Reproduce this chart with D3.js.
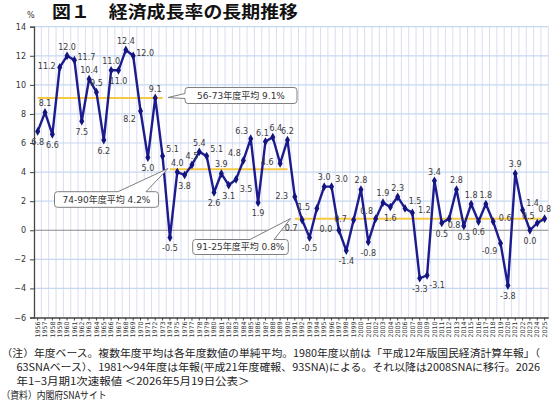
<!DOCTYPE html>
<html><head><meta charset="utf-8">
<script src="https://cdn.jsdelivr.net/npm/d3@7"></script>
<style>body{margin:0;background:#fff}svg{display:block}</style>
</head><body>
<svg id="c" width="552" height="414"></svg>
<script>
const years = d3.range(1956, 2026);
const growth = [6.8,8.1,6.6,11.2,12.0,11.7,7.5,10.4,9.5,6.2,
  11.0,11.0,12.4,12.0,8.2,5.0,9.1,5.1,-0.5,4.0,
  3.8,4.5,5.4,5.1,2.6,3.9,3.1,3.5,4.8,6.3,
  1.9,6.1,6.4,4.6,6.2,2.3,0.7,-0.5,1.5,3.0,
  3.0,0.0,-1.4,0.7,2.8,-0.8,0.8,1.9,1.6,2.3,
  1.5,1.2,-3.3,-3.1,3.4,0.5,0.8,2.8,0.3,1.8,
  0.6,1.8,0.6,-0.9,-3.8,3.9,1.4,0.0,0.5,0.8];
const yTicks = [-6,-4,-2,0,2,4,6,8,10,12,14];
const periodStart = [1956, 1974, 1991];
const periodEnd = [1973, 1990, 2025];
const periodAvg = [9.1, 4.2, 0.8];
const periodLabel = ["56-73年度平均 9.1%", "74-90年度平均 4.2%", "91-25年度平均 0.8%"];
const title = "図１　経済成長率の長期推移";
const notes = [
  "（注）年度ベース。複数年度平均は各年度数値の単純平均。1980年度以前は「平成12年版国民経済計算年報」（",
  "63SNAベース）、1981～94年度は年報(平成21年度確報、93SNA)による。それ以降は2008SNAに移行。2026",
  "年1−3月期1次速報値 ＜2026年5月19日公表＞",
  "（資料）内閣府SNAサイト"
];
// label placement codes (layout only)
const place = ["b","a","b","l","a","r","b","a","a","b",
  "a","b","a","r","bl","b","a","ar","b","a",
  "b","a","a","ar","b","a","b","br","al","al",
  "b","a1","a2","l","a","l","bl","b","l","a",
  "ar","l","b","l","a","b","al","a","b","a",
  "ar","r","b","br","a","b","bs","a","b","a",
  "b","a","r","bl","b","a","ar","b","al","a"];

const svg = d3.select("#c");
const x = d3.scaleBand().domain(years).range([34, 548.3]).padding(0);
const y = d3.scaleLinear().domain([-6, 14]).range([317.5, 26.7]);
const cx = d => x(d) + x.bandwidth()/2;

// vertical grid
svg.append("g").selectAll("line").data(years.slice(1).concat([2026])).join("line")
  .attr("x1", d => d===2026 ? 548.3 : x(d)).attr("x2", d => d===2026 ? 548.3 : x(d))
  .attr("y1", y(14)).attr("y2", y(-6))
  .attr("stroke", "#dcdcf4").attr("stroke-width", 1);
// horizontal grid
svg.append("g").selectAll("line").data(yTicks.filter(t => t !== 0 && t !== -6)).join("line")
  .attr("x1", 34).attr("x2", 548.3).attr("y1", d => y(d)).attr("y2", d => y(d))
  .attr("stroke", "#c5d8f0").attr("stroke-width", 1.2);
// zero line
svg.append("line").attr("x1", 34).attr("x2", 548.3).attr("y1", y(0)).attr("y2", y(0))
  .attr("stroke", "#8a8a8a").attr("stroke-width", 1.2);

// y axis
const yAxis = d3.axisLeft(y).tickValues(yTicks).tickSize(4).tickPadding(4);
const ga = svg.append("g").attr("transform", "translate(34,0)").call(yAxis);
ga.select(".domain").attr("stroke", "#444").attr("stroke-width", 1.3);
ga.selectAll(".tick line").attr("stroke", "#444");
ga.selectAll("text").attr("font-family", "DejaVu Sans").attr("font-size", 8).attr("fill", "#333");

// x axis
const xAxis = d3.axisBottom(x).tickSize(3).tickSizeOuter(0).tickPadding(3);
const gx = svg.append("g").attr("transform", `translate(0,${y(-6)})`).call(xAxis);
gx.select(".domain").attr("stroke", "#444").attr("stroke-width", 1.3);
gx.selectAll(".tick line").attr("stroke", "#444");
gx.selectAll("text").attr("font-family", "DejaVu Sans").attr("font-size", 6.3).attr("fill", "#333")
  .attr("text-anchor", "end").attr("dy", "0.35em")
  .attr("transform", "translate(0,4) rotate(-90)").attr("x", 0).attr("y", 0);

// average lines
periodAvg.forEach((v, i) => {
  svg.append("line").attr("x1", cx(periodStart[i])).attr("x2", cx(periodEnd[i]))
    .attr("y1", y(v)).attr("y2", y(v)).attr("stroke", "#f7c843").attr("stroke-width", 2);
});

// line
const line = d3.line().x((d, i) => cx(years[i])).y(d => y(d));
svg.append("path").datum(growth).attr("d", line).attr("fill", "none")
  .attr("stroke", "#1c1c8e").attr("stroke-width", 2.4).attr("stroke-linejoin", "round");
svg.append("g").selectAll("path").data(growth).join("path")
  .attr("transform", (d, i) => `translate(${cx(years[i])},${y(d)})`)
  .attr("d", d3.symbol().type(d3.symbolDiamond).size(22)).attr("fill", "#14147e");

// value labels
const off = {a:[0,-9], a1:[-3,-8], a2:[3,-9], b:[0,11], bs:[5,7], l:[-13,-1], r:[12,-3], ar:[10,-7], al:[-9,-7], br:[10,10], bl:[-11,8]};
svg.append("g").selectAll("text").data(growth).join("text")
  .attr("x", (d, i) => cx(years[i]) + off[place[i]][0])
  .attr("y", (d, i) => y(d) + off[place[i]][1])
  .attr("dy", "0.35em").attr("text-anchor", "middle")
  .attr("font-family", "DejaVu Sans").attr("font-size", 8).attr("fill", "#3a3a3a")
  .text(d => d.toFixed(1));

// callouts
function callout(bx, by, w, h, r, side, b1, b2, tx, ty) {
  const p = d3.path();
  p.moveTo(bx + r, by);
  if (side === "top") { p.lineTo(b1, by); p.lineTo(tx, ty); p.lineTo(b2, by); }
  p.lineTo(bx + w - r, by); p.arcTo(bx + w, by, bx + w, by + r, r);
  p.lineTo(bx + w, by + h - r); p.arcTo(bx + w, by + h, bx + w - r, by + h, r);
  p.lineTo(bx + r, by + h); p.arcTo(bx, by + h, bx, by + h - r, r);
  if (side === "left") { p.lineTo(bx, b2); p.lineTo(tx, ty); p.lineTo(bx, b1); }
  p.lineTo(bx, by + r); p.arcTo(bx, by, bx + r, by, r);
  p.closePath();
  return p.toString();
}
const boxes = [
  {bx:185, by:87.5, w:112, h:16, side:"left", b1:93.5, b2:98.5, tx:168, ty:97.5},
  {bx:54.5, by:191.7, w:104, h:15.6, side:"top", b1:118, b2:146, tx:168, ty:168.5},
  {bx:192.7, by:239.5, w:95.6, h:15, side:"top", b1:250, b2:274, tx:290.7, ty:218.5}
];
boxes.forEach((b, i) => {
  svg.append("path").attr("d", callout(b.bx, b.by, b.w, b.h, 3, b.side, b.b1, b.b2, b.tx, b.ty))
    .attr("fill", "#fff").attr("stroke", "#7f7f7f").attr("stroke-width", 1);
  svg.append("text").attr("x", b.bx + b.w/2).attr("y", b.by + b.h/2).attr("dy", "0.35em")
    .attr("text-anchor", "middle").attr("font-family", "DejaVu Sans, Noto Sans CJK JP")
    .attr("font-size", 9).attr("fill", "#333").text(periodLabel[i]);
});

// title
svg.append("text").attr("x", 52).attr("y", 17.5).attr("font-family", "Noto Sans CJK JP")
  .attr("font-weight", "bold").attr("font-size", 16.5).attr("fill", "#111")
  .attr("textLength", 246).attr("lengthAdjust", "spacingAndGlyphs").text(title);
svg.append("text").attr("x", 27).attr("y", 18).attr("font-family", "DejaVu Sans")
  .attr("font-size", 8).attr("fill", "#333").text("%");

// notes
const nx = [1.5, 16.5, 16.5, 1.5], nw = [538.5, 523.5, 233, 105], ny = [357, 371, 385, 399];
notes.forEach((t, i) => {
  svg.append("text").attr("x", nx[i]).attr("y", ny[i]).attr("font-family", "Noto Sans CJK JP")
    .attr("font-size", 10).attr("fill", "#222")
    .attr("textLength", nw[i]).attr("lengthAdjust", "spacingAndGlyphs").text(t);
});
</script>
</body></html>
